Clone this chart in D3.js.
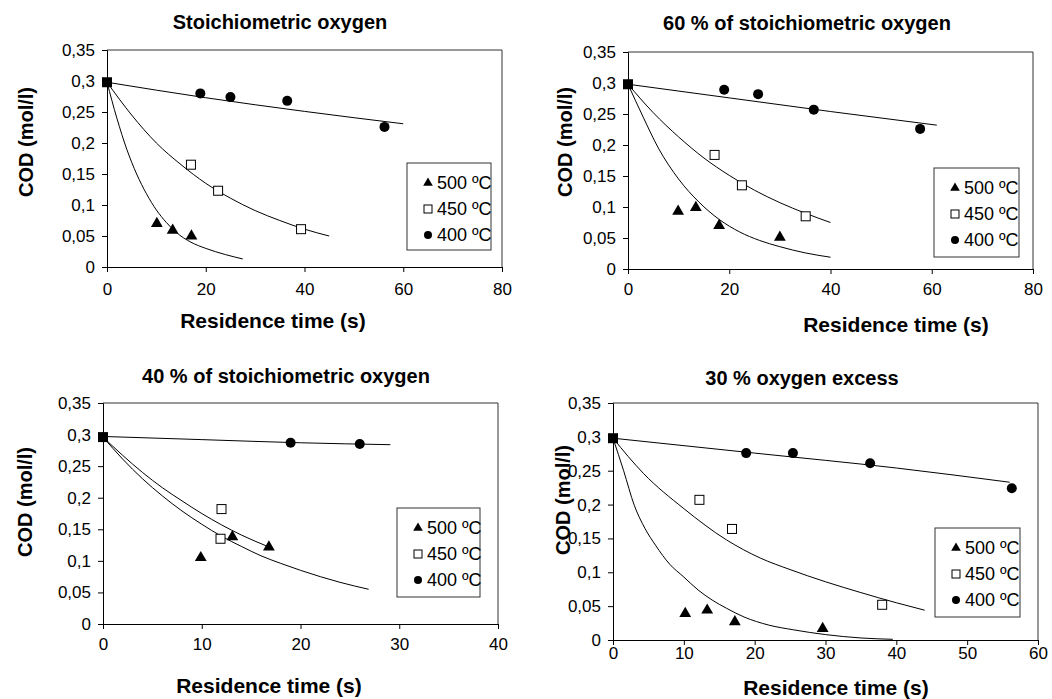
<!DOCTYPE html>
<html>
<head>
<meta charset="utf-8">
<script src="https://cdn.jsdelivr.net/npm/d3@7"></script>
<style>
  body { margin: 0; background: #fff; }
  svg { font-family: "Liberation Sans", Arial, sans-serif; }
</style>
</head>
<body>
<svg id="chart" width="1052" height="699"></svg>
<script>
// ---- data ----
var titles = ["Stoichiometric oxygen", "60 % of stoichiometric oxygen",
              "40 % of stoichiometric oxygen", "30 % oxygen excess"];
var seriesNames = ["500 ºC", "450 ºC", "400 ºC"];
var xMaxes = [80, 80, 40, 60];
var xTickSteps = [20, 20, 10, 10];
var yTicks = [0, 0.05, 0.1, 0.15, 0.2, 0.25, 0.3, 0.35];
var yTickLabels = ["0", "0,05", "0,1", "0,15", "0,2", "0,25", "0,3", "0,35"];
var startCOD = [0.298, 0.298, 0.296, 0.298];   // common initial point (t = 0)

// measured points [time, COD]
var p1_500 = [[10.1, 0.070], [13.3, 0.059], [17.1, 0.050]];
var p1_450 = [[17.0, 0.165], [22.5, 0.123], [39.3, 0.061]];
var p1_400 = [[18.9, 0.280], [25.0, 0.274], [36.5, 0.268], [56.2, 0.226]];
var p2_500 = [[9.9, 0.093], [13.4, 0.099], [18.0, 0.070], [30.0, 0.051]];
var p2_450 = [[17.1, 0.184], [22.5, 0.135], [35.1, 0.085]];
var p2_400 = [[19.0, 0.289], [25.7, 0.282], [36.7, 0.257], [57.7, 0.226]];
var p3_500 = [[9.9, 0.105], [13.1, 0.138], [16.8, 0.122]];
var p3_450 = [[12.0, 0.182], [11.9, 0.135]];
var p3_400 = [[19.0, 0.287], [26.0, 0.285]];
var p4_500 = [[10.2, 0.039], [13.3, 0.044], [17.2, 0.027], [29.6, 0.017]];
var p4_450 = [[12.2, 0.207], [16.8, 0.164], [38.0, 0.052]];
var p4_400 = [[18.8, 0.276], [25.4, 0.276], [36.3, 0.261], [56.3, 0.224]];

// model curves [time, COD]
var f1_500 = [[0, .298], [2, .24], [4, .19], [6, .150], [8, .118], [10, .092], [12, .072], [14, .056], [17, .040], [20, .030], [24, .020], [27.5, .013]];
var f1_450 = [[0, .298], [5, .245], [10, .200], [15, .165], [20, .135], [25, .111], [30, .091], [35, .075], [40, .061], [45, .050]];
var f1_400 = [[0, .298], [20, .273], [40, .251], [60, .231]];
var f2_500 = [[0, .298], [3, .245], [6, .195], [10, .145], [14, .108], [18, .080], [22, .060], [26, .046], [30, .036], [35, .026], [40, .019]];
var f2_450 = [[0, .298], [5, .252], [10, .213], [15, .179], [20, .151], [25, .127], [30, .107], [35, .090], [40, .075]];
var f2_400 = [[0, .298], [20, .276], [40, .254], [61, .232]];
var f3_500 = [[0, .296], [2, .267], [4, .240], [6, .216], [8, .195], [10, .175], [12, .157], [14, .141], [16.8, .122]];
var f3_450 = [[0, .296], [2, .261], [4, .230], [6, .203], [8, .179], [10, .158], [12, .139], [14, .123], [16, .108], [18, .096], [20, .085], [22, .075], [24, .066], [26.9, .055]];
var f3_400 = [[0, .297], [10, .292], [20, .287], [29.1, .284]];
var f4_500 = [[0, .298], [1.5, .250], [3, .199], [4.5, .165], [6, .140], [8, .112], [10, .093], [12, .074], [14, .059], [16, .047], [18.5, .034], [22, .022], [25.5, .015], [30, .008], [35, .003], [39.5, .001]];
var f4_450 = [[0, .298], [4.3, .246], [10, .194], [16, .148], [20.8, .121], [25, .104], [30, .086], [35, .070], [40, .055], [44, .044]];
var f4_400 = [[0, .298], [20, .276], [40, .254], [56, .233]];

var points = [[p1_500, p1_450, p1_400], [p2_500, p2_450, p2_400], [p3_500, p3_450, p3_400], [p4_500, p4_450, p4_400]];
var fits = [[f1_500, f1_450, f1_400], [f2_500, f2_450, f2_400], [f3_500, f3_450, f3_400], [f4_500, f4_450, f4_400]];

// ---- layout of each panel (pixels) ----
var panels = [
  {x0: 107, x1: 502, y0: 50, y1: 267, titleX: 280, titleY: 29, xlabX: 273, xlabY: 328, ylabX: 33, ylabY: 142, tickOff: 30, leg: [407, 163, 84, 87]},
  {x0: 628, x1: 1033, y0: 52, y1: 269, titleX: 807, titleY: 30, xlabX: 896, xlabY: 332, ylabX: 572, ylabY: 142, tickOff: 28, leg: [934, 168, 85, 89]},
  {x0: 103, x1: 498, y0: 403, y1: 624, titleX: 286, titleY: 383, xlabX: 269, xlabY: 693, ylabX: 32, ylabY: 502, tickOff: 28, leg: [397, 508, 83, 89]},
  {x0: 613, x1: 1038, y0: 403, y1: 640, titleX: 802, titleY: 385, xlabX: 836, xlabY: 695, ylabX: 570, ylabY: 500, tickOff: 21, leg: [935, 528, 85, 89]}
];

var svg = d3.select("#chart");

function drawMarker(g, kind, x, y, size) {
  if (kind === 0) {
    g.append("path")
      .attr("d", d3.symbol().type(d3.symbolTriangle).size(size * size * 0.5)())
      .attr("transform", "translate(" + x + "," + y + ")")
      .attr("fill", "#000");
  } else if (kind === 1) {
    g.append("rect")
      .attr("x", x - size / 2).attr("y", y - size / 2)
      .attr("width", size).attr("height", size)
      .attr("fill", "#fff").attr("stroke", "#000").attr("stroke-width", 1);
  } else {
    g.append("circle").attr("cx", x).attr("cy", y).attr("r", size / 2).attr("fill", "#000");
  }
}

panels.forEach(function(p, i) {
  var g = svg.append("g");
  var xScale = d3.scaleLinear().domain([0, xMaxes[i]]).range([p.x0, p.x1]);
  var yScale = d3.scaleLinear().domain([0, 0.35]).range([p.y1, p.y0]);

  // frame (top + right)
  g.append("path")
    .attr("d", "M" + p.x0 + "," + p.y0 + "H" + p.x1 + "V" + p.y1)
    .attr("fill", "none").attr("stroke", "#333").attr("stroke-width", 1);

  // axes
  var xTicks = d3.range(0, xMaxes[i] + 0.001, xTickSteps[i]);
  var xAxis = d3.axisBottom(xScale).tickValues(xTicks).tickSize(5).tickFormat(d3.format("d"));
  var yAxis = d3.axisLeft(yScale).tickValues(yTicks).tickSize(5)
    .tickFormat(function(d, k) { return yTickLabels[k]; });

  var gx = g.append("g").attr("transform", "translate(0," + p.y1 + ")").call(xAxis);
  var gy = g.append("g").attr("transform", "translate(" + p.x0 + ",0)").call(yAxis);
  [gx, gy].forEach(function(a) {
    a.select(".domain").attr("stroke", "#000");
    a.selectAll(".tick line").attr("stroke", "#000");
    a.selectAll(".tick text").attr("fill", "#000").attr("font-size", 17)
      .attr("font-family", "Liberation Sans, Arial, sans-serif");
  });
  gx.selectAll(".tick text").attr("y", p.tickOff - 14).attr("dy", "0.71em");
  gy.selectAll(".tick text").attr("x", -12);

  // fitted curves
  var line = d3.line().x(function(d) { return xScale(d[0]); }).y(function(d) { return yScale(d[1]); })
    .curve(d3.curveMonotoneX);
  fits[i].forEach(function(f) {
    g.append("path").datum(f).attr("d", line)
      .attr("fill", "none").attr("stroke", "#000").attr("stroke-width", 1);
  });

  // measured points
  points[i].forEach(function(ser, k) {
    ser.forEach(function(d) {
      drawMarker(g, k, xScale(d[0]), yScale(d[1]), k === 2 ? 10 : (k === 1 ? 9 : 11));
    });
  });
  // shared initial point
  g.append("rect")
    .attr("x", xScale(0) - 5).attr("y", yScale(startCOD[i]) - 5)
    .attr("width", 10).attr("height", 10).attr("fill", "#000");

  // titles & labels
  g.append("text").attr("x", p.titleX).attr("y", p.titleY)
    .attr("text-anchor", "middle").attr("font-size", 20).attr("font-weight", "bold")
    .text(titles[i]);
  g.append("text").attr("x", p.xlabX).attr("y", p.xlabY)
    .attr("text-anchor", "middle").attr("font-size", 21).attr("font-weight", "bold")
    .text("Residence time (s)");
  g.append("text")
    .attr("transform", "translate(" + p.ylabX + "," + p.ylabY + ") rotate(-90)")
    .attr("text-anchor", "middle").attr("font-size", 20).attr("font-weight", "bold")
    .text("COD (mol/l)");

  // legend
  var L = p.leg;
  g.append("rect").attr("x", L[0]).attr("y", L[1]).attr("width", L[2]).attr("height", L[3])
    .attr("fill", "#fff").attr("stroke", "#333").attr("stroke-width", 1);
  seriesNames.forEach(function(name, k) {
    var cy = L[1] + 20 + k * 26;
    drawMarker(g, k, L[0] + 21, cy, k === 2 ? 8 : (k === 1 ? 8 : 9));
    g.append("text").attr("x", L[0] + 30).attr("y", cy + 6)
      .attr("font-size", 18).text(name);
  });
});
</script>
</body>
</html>
